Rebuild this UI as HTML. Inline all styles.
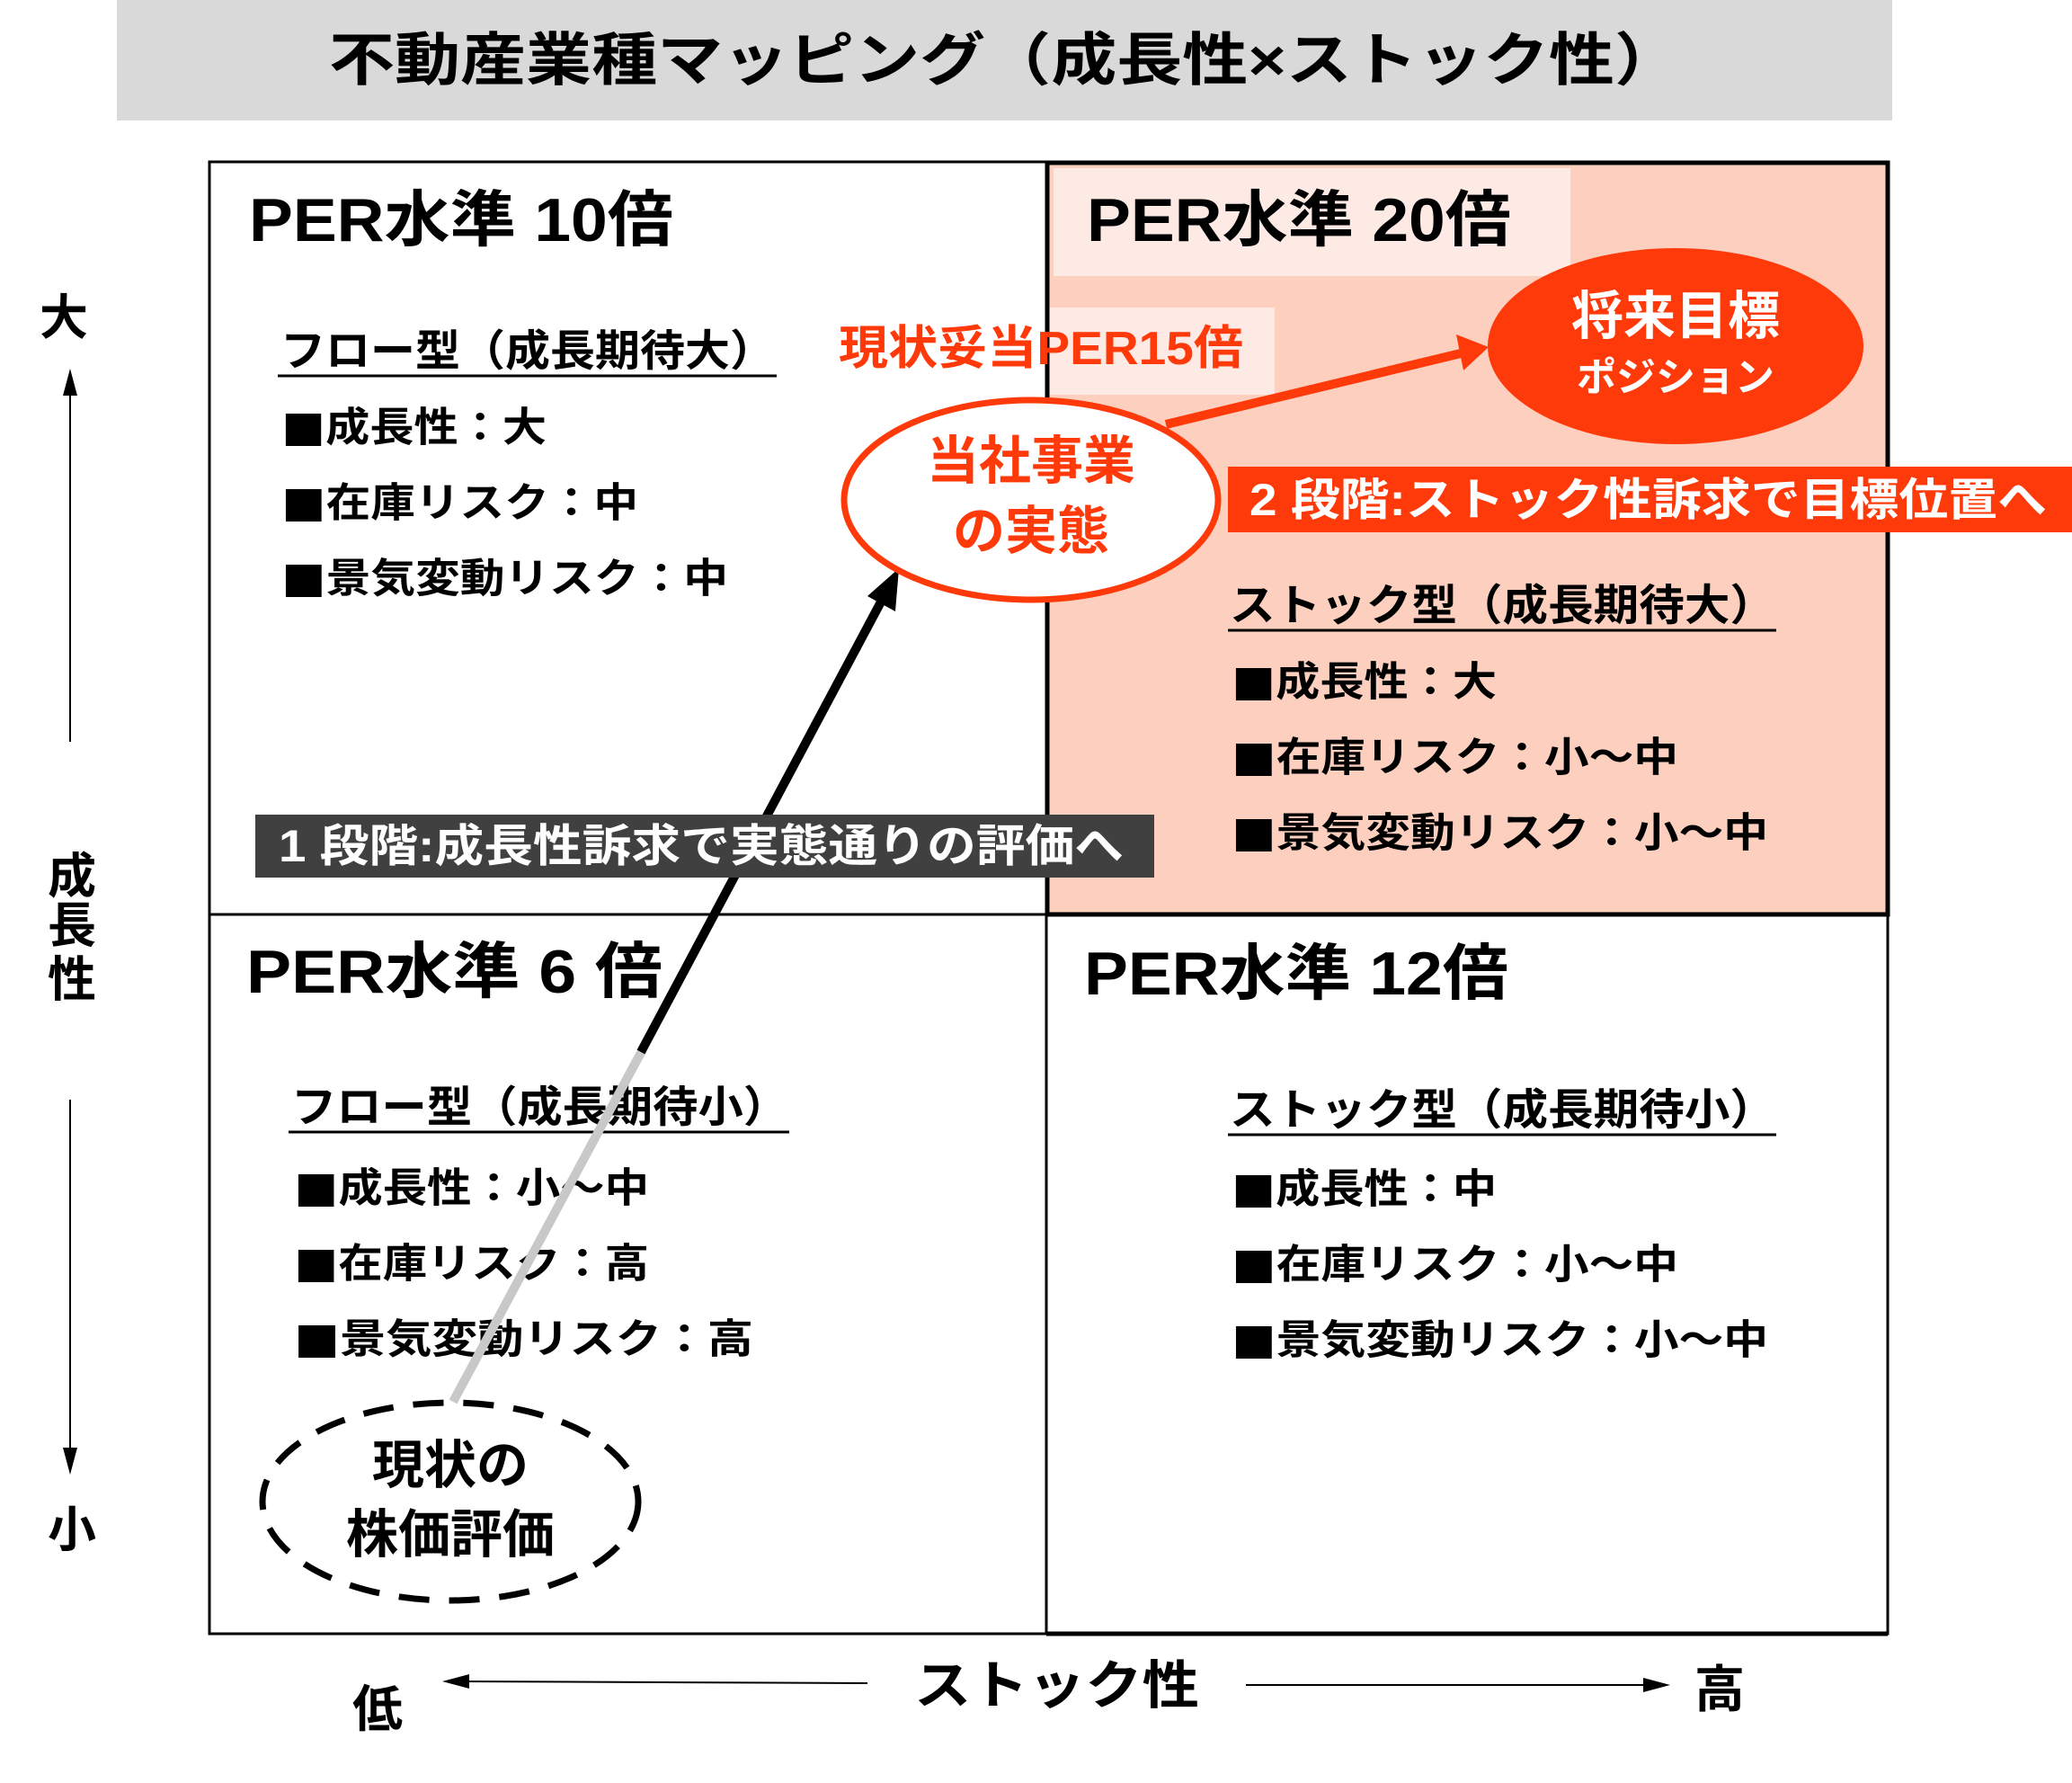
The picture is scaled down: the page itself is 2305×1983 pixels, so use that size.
<!DOCTYPE html>
<html><head><meta charset="utf-8"><style>
html,body{margin:0;padding:0;background:#fff}
svg{display:block}
text{font-family:"Liberation Sans","Noto Sans CJK JP",sans-serif;font-weight:bold;dominant-baseline:central}
.n{font-family:"Noto Sans CJK JP",sans-serif}
</style></head><body>
<svg width="2305" height="1983" viewBox="0 0 2305 1983" xmlns="http://www.w3.org/2000/svg">
<!-- title -->
<rect x="130" y="0" width="1975" height="134" fill="#d9d9d9"/>
<text x="366" y="67" font-size="64" textLength="1503" lengthAdjust="spacingAndGlyphs">不動産業種マッピング（成長性×ストック性）</text>
<!-- quadrants -->
<rect x="1164" y="180" width="936" height="837" fill="#fdcfbf"/>
<rect x="1172" y="187" width="575" height="120" fill="#fdeae4"/>
<rect x="1164" y="342" width="254" height="97" fill="#fdeae4"/>
<rect x="233" y="180" width="1867" height="1637" fill="none" stroke="#000" stroke-width="3"/>
<line x1="1164" y1="180" x2="1164" y2="1817" stroke="#000" stroke-width="3"/>
<line x1="233" y1="1017" x2="2100" y2="1017" stroke="#000" stroke-width="3"/>
<rect x="1165" y="181" width="935" height="836" fill="none" stroke="#000" stroke-width="5"/>
<line x1="1164" y1="1817" x2="2100" y2="1817" stroke="#000" stroke-width="5"/>
<!-- PER labels -->
<text x="277" y="245" font-size="68" textLength="472" lengthAdjust="spacingAndGlyphs">PER水準 10倍</text>
<text x="1209" y="245" font-size="68" textLength="472" lengthAdjust="spacingAndGlyphs">PER水準 20倍</text>
<text x="274" y="1081" font-size="68" textLength="463" lengthAdjust="spacingAndGlyphs">PER水準 6 倍</text>
<text x="1206" y="1083" font-size="68" textLength="472" lengthAdjust="spacingAndGlyphs">PER水準 12倍</text>
<!-- TL -->
<text x="312" y="391" font-size="48" textLength="550" lengthAdjust="spacingAndGlyphs">フロー型（成長期待大）</text>
<line x1="309" y1="418" x2="864" y2="418" stroke="#000" stroke-width="3"/>
<text x="313" y="475" font-size="45" textLength="295" lengthAdjust="spacingAndGlyphs"><tspan class="n">■</tspan>成長性：大</text>
<text x="313" y="559" font-size="45" textLength="397" lengthAdjust="spacingAndGlyphs"><tspan class="n">■</tspan>在庫リスク：中</text>
<text x="313" y="643" font-size="45" textLength="497" lengthAdjust="spacingAndGlyphs"><tspan class="n">■</tspan>景気変動リスク：中</text>
<!-- TR -->
<text x="1368" y="674" font-size="48" textLength="607" lengthAdjust="spacingAndGlyphs">ストック型（成長期待大）</text>
<line x1="1366" y1="701" x2="1976" y2="701" stroke="#000" stroke-width="3"/>
<text x="1370" y="758" font-size="45" textLength="295" lengthAdjust="spacingAndGlyphs"><tspan class="n">■</tspan>成長性：大</text>
<text x="1370" y="842" font-size="45" textLength="497" lengthAdjust="spacingAndGlyphs"><tspan class="n">■</tspan>在庫リスク：小～中</text>
<text x="1370" y="926" font-size="45" textLength="597" lengthAdjust="spacingAndGlyphs"><tspan class="n">■</tspan>景気変動リスク：小～中</text>
<!-- BL -->
<text x="324" y="1232" font-size="48" textLength="553" lengthAdjust="spacingAndGlyphs">フロー型（成長期待小）</text>
<line x1="321" y1="1259" x2="878" y2="1259" stroke="#000" stroke-width="3"/>
<text x="327" y="1321" font-size="45" textLength="395" lengthAdjust="spacingAndGlyphs"><tspan class="n">■</tspan>成長性：小～中</text>
<text x="327" y="1405" font-size="45" textLength="395" lengthAdjust="spacingAndGlyphs"><tspan class="n">■</tspan>在庫リスク：高</text>
<text x="327" y="1489" font-size="45" textLength="511" lengthAdjust="spacingAndGlyphs"><tspan class="n">■</tspan>景気変動リスク：高</text>
<!-- BR -->
<text x="1368" y="1235" font-size="48" textLength="607" lengthAdjust="spacingAndGlyphs">ストック型（成長期待小）</text>
<line x1="1366" y1="1262" x2="1976" y2="1262" stroke="#000" stroke-width="3"/>
<text x="1370" y="1322" font-size="45" textLength="295" lengthAdjust="spacingAndGlyphs"><tspan class="n">■</tspan>成長性：中</text>
<text x="1370" y="1406" font-size="45" textLength="497" lengthAdjust="spacingAndGlyphs"><tspan class="n">■</tspan>在庫リスク：小～中</text>
<text x="1370" y="1490" font-size="45" textLength="597" lengthAdjust="spacingAndGlyphs"><tspan class="n">■</tspan>景気変動リスク：小～中</text>
<!-- 15倍 -->
<text x="933" y="388" font-size="52" fill="#ff3a0a" textLength="450" lengthAdjust="spacingAndGlyphs">現状妥当PER15倍</text>
<!-- arrows -->
<line x1="504" y1="1559" x2="715" y2="1167" stroke="#c8c8c8" stroke-width="10"/>
<line x1="713" y1="1170" x2="985" y2="660" stroke="#000" stroke-width="10"/>
<path d="M1000,632 L996,680 L965,663 z" fill="#000"/>
<line x1="1297" y1="472" x2="1625" y2="393" stroke="#ff3a0a" stroke-width="10"/>
<path d="M1656,386 L1620,372 L1628,412 z" fill="#ff3a0a"/>
<!-- ellipses -->
<ellipse cx="1147" cy="556" rx="208" ry="111" fill="#fff" stroke="#ff3a0a" stroke-width="7"/>
<text x="1147" y="513" font-size="58" fill="#ff3a0a" text-anchor="middle">当社事業</text>
<text x="1147" y="591" font-size="58" fill="#ff3a0a" text-anchor="middle">の実態</text>
<ellipse cx="1864" cy="385" rx="209" ry="109" fill="#ff3a0a"/>
<text x="1864" y="352" font-size="58" fill="#fff" text-anchor="middle">将来目標</text>
<text x="1864" y="420" font-size="44" fill="#fff" text-anchor="middle">ポジション</text>
<ellipse cx="501" cy="1670" rx="209" ry="110" fill="none" stroke="#000" stroke-width="7" stroke-dasharray="34,22"/>
<text x="501" y="1630" font-size="58" text-anchor="middle">現状の</text>
<text x="501" y="1707" font-size="58" text-anchor="middle">株価評価</text>
<!-- stage labels -->
<rect x="1366" y="519" width="939" height="73" fill="#ff3a0a"/>
<text x="1390" y="556" font-size="50" fill="#fff" textLength="887" lengthAdjust="spacingAndGlyphs">2 段階:ストック性訴求で目標位置へ</text>
<rect x="284" y="906" width="1000" height="70" fill="#404040"/>
<text x="310" y="941" font-size="50" fill="#fff" textLength="940" lengthAdjust="spacingAndGlyphs">1 段階:成長性訴求で実態通りの評価へ</text>
<!-- axes -->
<text x="71" y="354" font-size="54" text-anchor="middle">大</text>
<line x1="78" y1="825" x2="78" y2="430" stroke="#000" stroke-width="2"/>
<path d="M78,410 L70,440 L86,440 z" fill="#000"/>
<text x="80" y="975" font-size="54" text-anchor="middle">成</text>
<text x="80" y="1030" font-size="54" text-anchor="middle">長</text>
<text x="80" y="1090" font-size="54" text-anchor="middle">性</text>
<line x1="78" y1="1223" x2="78" y2="1620" stroke="#000" stroke-width="2"/>
<path d="M78,1640 L70,1610 L86,1610 z" fill="#000"/>
<text x="80" y="1702" font-size="54" text-anchor="middle">小</text>
<text x="420" y="1901" font-size="56" text-anchor="middle">低</text>
<line x1="965" y1="1872" x2="510" y2="1870" stroke="#000" stroke-width="2"/>
<path d="M492,1870 L522,1862 L522,1878 z" fill="#000"/>
<text x="1017" y="1875" font-size="58" textLength="317" lengthAdjust="spacingAndGlyphs">ストック性</text>
<line x1="1386" y1="1874" x2="1840" y2="1874" stroke="#000" stroke-width="2"/>
<path d="M1858,1874 L1828,1866 L1828,1882 z" fill="#000"/>
<text x="1913" y="1879" font-size="56" text-anchor="middle">高</text>
</svg>
</body></html>
